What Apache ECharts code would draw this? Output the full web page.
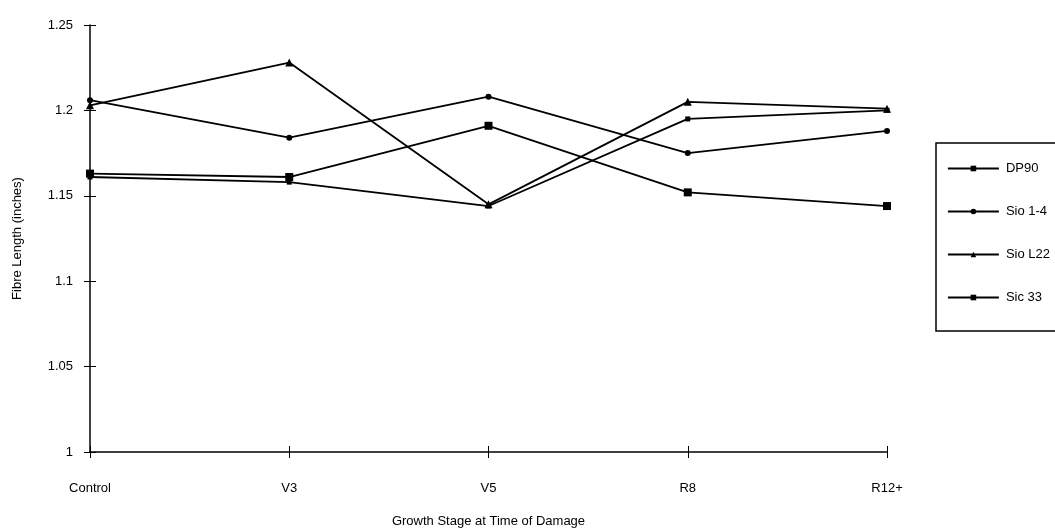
<!DOCTYPE html>
<html>
<head>
<meta charset="utf-8">
<script src="https://cdn.jsdelivr.net/npm/echarts@6/dist/echarts.min.js"></script>
<style>
html,body{margin:0;padding:0;background:#fff;}
#chart{width:1055px;height:530px;}
</style>
</head>
<body>
<div id="chart"></div>
<script>
var categories = ['Control', 'V3', 'V5', 'R8', 'R12+'];
var yTicks = [1, 1.05, 1.1, 1.15, 1.2, 1.25];
var seriesNames = ['DP90', 'Sio 1-4', 'Sio L22', 'Sic 33'];
var dp90 = [1.163, 1.161, 1.191, 1.152, 1.144];
var sio14 = [1.206, 1.184, 1.208, 1.175, 1.188];
var sioL22 = [1.203, 1.228, 1.145, 1.205, 1.201];
var sic33 = [1.161, 1.158, 1.144, 1.195, 1.200];

var FONT = 'Liberation Sans, Arial, sans-serif';
var txt = {color: '#000', fontFamily: FONT, fontSize: 13};
var axisLine = {show: true, lineStyle: {color: '#000', width: 1.5}};

function mkSeries(name, data, symbol, size) {
  return {
    name: name, type: 'line', data: data,
    xAxisIndex: 0, yAxisIndex: 0,
    symbol: symbol, symbolSize: size, showSymbol: true,
    lineStyle: {color: '#000', width: 1.8},
    itemStyle: {color: '#000'},
    animation: false
  };
}

var chart = echarts.init(document.getElementById('chart'), null, {renderer: 'canvas'});
chart.setOption({
  backgroundColor: '#fff',
  animation: false,
  grid: {left: 90, right: 168, top: 25, bottom: 78, containLabel: false, outerBoundsMode: 'none'},
  legend: {
    orient: 'vertical', left: 936, top: 143,
    data: seriesNames,
    itemWidth: 51, itemHeight: 7, itemGap: 30,
    padding: [19, 40, 27, 11],
    borderColor: '#000', borderWidth: 1.5,
    textStyle: {color: '#000', fontFamily: FONT, fontSize: 13, padding: [0, 0, 0, 2]},
    itemStyle: {color: '#000'},
    lineStyle: {color: '#000', width: 1.8}
  },
  xAxis: [{
    type: 'category', data: categories, boundaryGap: false, position: 'bottom',
    name: 'Growth Stage at Time of Damage', nameLocation: 'middle', nameGap: 63,
    nameTextStyle: txt,
    axisLine: axisLine,
    axisTick: {show: true, inside: false, length: 6, lineStyle: {color: '#000', width: 1}},
    axisLabel: Object.assign({margin: 30}, txt),
    splitLine: {show: false}
  }, {
    type: 'category', data: categories, boundaryGap: false, position: 'bottom',
    axisLine: {show: false},
    axisTick: {show: true, inside: true, length: 6, lineStyle: {color: '#000', width: 1}},
    axisLabel: {show: false}, splitLine: {show: false}
  }],
  yAxis: [{
    type: 'value', min: yTicks[0], max: yTicks[yTicks.length - 1], interval: 0.05,
    position: 'left',
    name: 'Fibre Length (inches)', nameLocation: 'middle', nameGap: 66,
    nameTextStyle: txt,
    axisLine: axisLine,
    axisTick: {show: true, inside: false, length: 6, lineStyle: {color: '#000', width: 1}},
    axisLabel: Object.assign({margin: 17, formatter: function (v) { return String(+v.toFixed(2)); }}, txt),
    splitLine: {show: false}
  }, {
    type: 'value', min: yTicks[0], max: yTicks[yTicks.length - 1], interval: 0.05,
    position: 'left',
    axisLine: {show: false},
    axisTick: {show: true, inside: true, length: 6, lineStyle: {color: '#000', width: 1}},
    axisLabel: {show: false}, splitLine: {show: false}
  }],
  series: [
    mkSeries(seriesNames[0], dp90, 'rect', 8),
    mkSeries(seriesNames[1], sio14, 'circle', 6),
    mkSeries(seriesNames[2], sioL22, 'triangle', 8),
    mkSeries(seriesNames[3], sic33, 'rect', 5)
  ]
});
</script>
</body>
</html>
